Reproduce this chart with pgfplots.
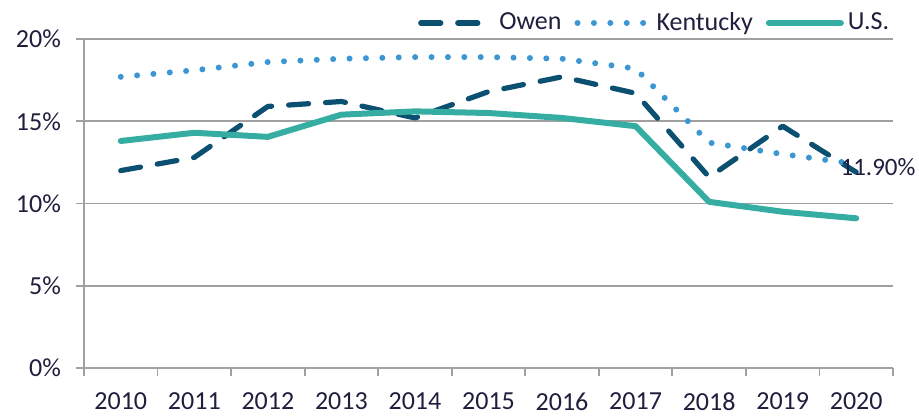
\documentclass[border=0pt]{standalone}
\usepackage{pgfplots}
\pgfplotsset{compat=1.18}
\usepackage{fontspec}
\setmainfont{Carlito}
\definecolor{owen}{HTML}{0B4F71}
\definecolor{ky}{HTML}{3C96D4}
\definecolor{us}{HTML}{36ADA2}
\definecolor{gridc}{HTML}{A0A0A0}
\definecolor{txt}{HTML}{1F1F3D}
\pgfplotstableread{
x owen ky us
0 12.0 17.7 13.8
1 12.8 18.1 14.3
2 15.9 18.6 14.05
3 16.2 18.8 15.4
4 15.2 18.9 15.6
5 16.8 18.9 15.5
6 17.7 18.8 15.2
7 16.7 18.2 14.7
8 11.6 13.7 10.1
9 14.7 13.0 9.5
10 11.9 12.4 9.1
}\datatable
\begin{document}
\begin{tikzpicture}
\path[use as bounding box] (-42pt,-24pt) rectangle (417.5pt,184pt);
\begin{axis}[
  at={(0pt,0pt)}, anchor=south west,
  scale only axis, width=404.5pt, height=164.5pt,
  xmin=-0.5, xmax=10.5, ymin=0, ymax=20,
  xtick={-0.5,0.5,...,10.5},
  x tick label as interval,
  xticklabels={2010,2011,2012,2013,2014,2015,2016,2017,2018,2019,2020},
  ytick={0,5,10,15,20},
  yticklabel={\pgfmathprintnumber{\tick}\%},
  /pgf/number format/assume math mode=true,
  axis x line*=bottom, axis y line*=left,
  axis line style={gridc, line width=0.9pt},
  tick style={gridc, line width=0.9pt},
  tick align=outside,
  major tick length=4pt,
  ymajorgrids, grid style={gridc, line width=0.9pt},
  ticklabel style={font=\fontsize{13}{15}\selectfont, text=txt},
  yticklabel style={xshift=-4pt},
  xticklabel style={yshift=-5pt},
  legend style={at={(axis description cs:0.997,1)}, anchor=east, yshift=8pt,
    draw=none, fill=none, font=\fontsize{13}{15}\selectfont, text=txt,
    legend columns=-1, column sep=1.5pt, inner sep=0pt,
    nodes={inner sep=0.5pt}},
  /tikz/every even column/.append style={column sep=6pt},
  legend image code/.code={\draw[#1] (0pt,0pt) -- (36pt,0pt);},
  clip=false,
]
\addplot[owen, line width=2.6pt, line cap=round, line join=round, dash pattern=on 10pt off 8.5pt] table[x=x,y=owen] {\datatable};
\addlegendentry{Owen}
\addplot[ky, line width=3pt, line cap=round, dash pattern=on 0pt off 8.2pt] table[x=x,y=ky] {\datatable};
\addlegendentry{Kentucky}
\addplot[us, line width=3pt, line cap=round, line join=round] table[x=x,y=us] {\datatable};
\addlegendentry{U.S.}
\node[anchor=west, text=txt, font=\fontsize{12.5}{14}\selectfont, inner sep=0pt, xshift=-8pt, yshift=2.5pt] at (axis cs:10,11.9) {11.90\%};
\end{axis}
\end{tikzpicture}
\end{document}
